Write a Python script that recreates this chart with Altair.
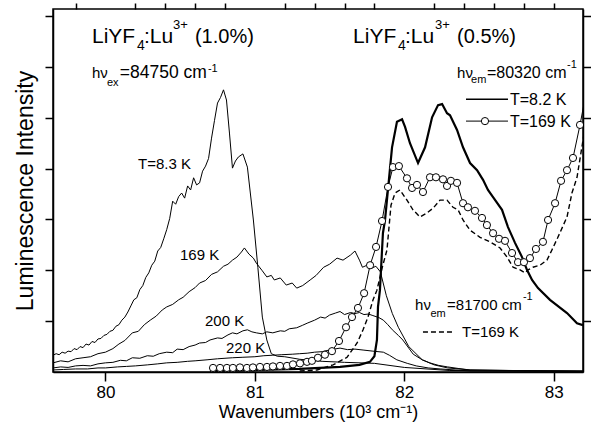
import altair as alt
import pandas as pd

# ---------------- data (x: 10^3 cm^-1, y: intensity, arb. units) ----------------
# LiYF4:Lu3+ (1.0%) emission, hv_ex = 84750 cm-1
em83_x = [79.65, 79.67, 79.69, 79.71, 79.73, 79.75, 79.77, 79.79, 79.81, 79.83, 79.85, 79.87,
          79.89, 79.91, 79.93, 79.95, 79.97, 79.99, 80.01, 80.03, 80.05, 80.07, 80.09, 80.11,
          80.13, 80.15, 80.17, 80.19, 80.21, 80.23, 80.25, 80.27, 80.29, 80.31, 80.33, 80.35,
          80.37, 80.39, 80.41, 80.43, 80.45, 80.47, 80.49, 80.51, 80.53, 80.55, 80.57, 80.59,
          80.61, 80.63, 80.65, 80.67, 80.69, 80.71, 80.73, 80.75, 80.77, 80.79, 80.81, 80.83,
          80.85, 80.87, 80.89, 80.92, 80.95, 80.99, 81.02, 81.05, 81.08, 81.11, 81.15, 81.20,
          81.30, 81.45, 81.60, 81.80, 82.00, 82.30, 83.20]
em83_y = [0.33, 0.36, 0.34, 0.39, 0.37, 0.41, 0.40, 0.46, 0.44, 0.50, 0.48, 0.55,
          0.53, 0.60, 0.58, 0.65, 0.66, 0.72, 0.74, 0.80, 0.82, 0.90, 0.93, 1.02,
          1.08, 1.18, 1.30, 1.42, 1.46, 1.62, 1.70, 1.86, 1.95, 2.10, 2.18, 2.38,
          2.45, 2.62, 2.80, 3.02, 3.36, 3.30, 3.45, 3.52, 3.42, 3.66, 3.58, 3.82,
          3.68, 3.72, 3.95, 4.05, 4.20, 4.60, 4.95, 5.29, 5.40, 5.55, 5.35, 4.70,
          4.01, 4.15, 4.23, 4.29, 4.03, 2.99, 2.06, 1.08, 0.63, 0.36, 0.31, 0.30,
          0.25, 0.21, 0.19, 0.17, 0.09, 0.03, 0.01]

em169_x = [79.65, 79.70, 79.75, 79.80, 79.85, 79.90, 79.95, 80.00, 80.05, 80.09, 80.13, 80.18,
           80.22, 80.26, 80.30, 80.34, 80.38, 80.41, 80.45, 80.49, 80.52, 80.56, 80.60, 80.63,
           80.67, 80.71, 80.75, 80.79, 80.82, 80.85, 80.88, 80.91, 80.93, 80.96, 80.99, 81.01,
           81.05, 81.08, 81.11, 81.13, 81.17, 81.21, 81.25, 81.28, 81.32, 81.37, 81.41, 81.46,
           81.50, 81.55, 81.59, 81.64, 81.67, 81.70, 81.72, 81.75, 81.78, 81.81, 81.84, 81.88,
           81.92, 81.96, 82.03, 82.12, 82.20, 82.29, 82.44, 82.70, 83.20]
em169_y = [0.18, 0.22, 0.20, 0.26, 0.28, 0.30, 0.36, 0.39, 0.46, 0.55, 0.62, 0.77,
           0.80, 0.93, 1.02, 1.10, 1.22, 1.28, 1.33, 1.42, 1.47, 1.58, 1.66, 1.75,
           1.80, 1.92, 1.97, 2.08, 2.12, 2.20, 2.26, 2.36, 2.44, 2.32, 2.24, 2.14,
           1.99, 1.87, 1.90, 1.81, 1.85, 1.71, 1.75, 1.65, 1.70, 1.81, 1.90, 2.06,
           2.12, 2.24, 2.20, 2.30, 2.38, 2.20, 2.06, 2.10, 2.04, 2.08, 1.97, 1.50,
           1.15, 0.88, 0.50, 0.24, 0.14, 0.08, 0.04, 0.03, 0.02]

em200_x = [79.65, 79.70, 79.75, 79.80, 79.85, 79.90, 79.95, 80.00, 80.05, 80.10, 80.14, 80.18,
           80.23, 80.28, 80.32, 80.36, 80.41, 80.45, 80.48, 80.52, 80.56, 80.60, 80.63, 80.67,
           80.70, 80.75, 80.78, 80.82, 80.85, 80.88, 80.92, 80.95, 80.98, 81.01, 81.05, 81.08,
           81.12, 81.17, 81.20, 81.23, 81.28, 81.32, 81.35, 81.40, 81.44, 81.47, 81.50, 81.54,
           81.57, 81.60, 81.64, 81.67, 81.70, 81.73, 81.76, 81.79, 81.83, 81.86, 81.89, 81.92,
           81.96, 81.99, 82.03, 82.06, 82.12, 82.17, 82.23, 82.29, 82.36, 82.44, 82.70, 83.20]
em200_y = [0.08, 0.10, 0.09, 0.12, 0.13, 0.12, 0.16, 0.18, 0.19, 0.23, 0.22, 0.28,
           0.27, 0.32, 0.31, 0.36, 0.39, 0.38, 0.45, 0.44, 0.50, 0.53, 0.57, 0.58,
           0.63, 0.67, 0.66, 0.73, 0.77, 0.75, 0.81, 0.83, 0.79, 0.77, 0.75, 0.79,
           0.77, 0.81, 0.80, 0.85, 0.87, 0.92, 0.96, 1.02, 1.08, 1.06, 1.12, 1.16,
           1.19, 1.13, 1.17, 1.15, 1.17, 1.13, 1.14, 1.11, 1.07, 1.02, 0.93, 0.83,
           0.72, 0.63, 0.47, 0.35, 0.24, 0.18, 0.13, 0.10, 0.07, 0.04, 0.03, 0.02]

em220_x = [79.65, 79.72, 79.80, 79.88, 79.95, 80.00, 80.08, 80.14, 80.20, 80.28, 80.35, 80.41,
           80.48, 80.55, 80.60, 80.68, 80.75, 80.80, 80.85, 80.92, 81.00, 81.06, 81.12, 81.18,
           81.25, 81.30, 81.35, 81.40, 81.45, 81.51, 81.57, 81.62, 81.67, 81.73, 81.79, 81.86,
           81.90, 81.95, 82.02, 82.08, 82.16, 82.24, 82.34, 82.44, 83.20]
em220_y = [0.04, 0.05, 0.06, 0.06, 0.08, 0.08, 0.10, 0.11, 0.12, 0.14, 0.16, 0.18,
           0.19, 0.21, 0.22, 0.24, 0.26, 0.27, 0.28, 0.29, 0.30, 0.32, 0.33, 0.34,
           0.35, 0.36, 0.37, 0.39, 0.40, 0.44, 0.47, 0.44, 0.45, 0.43, 0.41, 0.39,
           0.33, 0.24, 0.17, 0.12, 0.08, 0.06, 0.04, 0.02, 0.01]

# LiYF4:Lu3+ (0.5%) excitation, hv_em = 80320 cm-1, T = 8.2 K (thick line)
ex82_x = [80.70, 81.03, 81.30, 81.57, 81.70, 81.77, 81.80, 81.817, 81.824, 81.837, 81.857,
          81.871, 81.918, 81.951, 81.985, 82.005, 82.038, 82.092, 82.139, 82.186, 82.226,
          82.253, 82.286, 82.306, 82.353, 82.393, 82.44, 82.487, 82.527, 82.56, 82.594,
          82.654, 82.694, 82.741, 82.788, 82.821, 82.855, 82.895, 82.975, 83.089, 83.156, 83.196]
ex82_y = [0.02, 0.04, 0.06, 0.10, 0.14, 0.20, 0.31, 0.63, 1.28, 1.61, 2.73,
          2.99, 4.42, 4.92, 4.97, 4.82, 4.50, 4.11, 4.42, 5.01, 5.25,
          5.27, 5.09, 5.05, 4.76, 4.42, 4.11, 3.97, 3.78, 3.58, 3.44,
          3.19, 2.85, 2.54, 2.26, 2.01, 1.81, 1.65, 1.42, 1.16, 0.96, 0.92]

# excitation, hv_em = 80320 cm-1, T = 169 K (open circles)
ex169_x = [80.720, 80.767, 80.813, 80.853, 80.900, 80.947, 80.987, 81.034, 81.081, 81.121,
           81.168, 81.215, 81.255, 81.302, 81.349, 81.382, 81.422, 81.469, 81.516, 81.563,
           81.610, 81.650, 81.690, 81.731, 81.771, 81.811, 81.851, 81.891, 81.924, 81.964,
           82.018, 82.052, 82.085, 82.125, 82.172, 82.212, 82.259, 82.286, 82.312, 82.353,
           82.393, 82.426, 82.473, 82.520, 82.553, 82.594, 82.634, 82.674, 82.721, 82.761,
           82.801, 82.841, 82.881, 82.928, 82.962, 83.009, 83.049, 83.089, 83.129, 83.176]
ex169_y = [0.08, 0.08, 0.08, 0.08, 0.09, 0.08, 0.09, 0.10, 0.10, 0.11,
           0.12, 0.12, 0.15, 0.17, 0.20, 0.22, 0.28, 0.34, 0.41, 0.61,
           0.88, 1.08, 1.26, 1.55, 2.10, 2.46, 2.97, 3.64, 4.03, 4.05,
           3.81, 3.62, 3.68, 3.54, 3.83, 3.83, 3.79, 3.66, 3.76, 3.72,
           3.32, 3.24, 3.17, 3.03, 2.89, 2.73, 2.62, 2.58, 2.34, 2.16,
           2.16, 2.24, 2.42, 2.56, 2.99, 3.32, 3.76, 3.97, 4.21, 4.86]
ex169_tail_x = [83.23]
ex169_tail_y = [5.70]

# excitation, hv_em = 81700 cm-1, T = 169 K (dashed)
ex81_x = [81.30, 81.416, 81.523, 81.617, 81.684, 81.724, 81.757, 81.791, 81.817, 81.851,
          81.884, 81.911, 81.938, 81.971, 82.018, 82.058, 82.105, 82.152, 82.192, 82.239,
          82.286, 82.326, 82.36, 82.393, 82.44, 82.507, 82.574, 82.641, 82.688, 82.728,
          82.775, 82.808, 82.828, 82.861, 82.908, 82.955, 82.988, 83.028, 83.089, 83.122,
          83.156, 83.196, 83.23]
ex81_y = [0.02, 0.04, 0.14, 0.29, 0.57, 0.83, 1.08, 1.42, 1.61, 2.04,
          2.40, 3.28, 3.52, 3.58, 3.38, 3.19, 3.05, 3.13, 3.22, 3.38,
          3.38, 3.24, 3.19, 2.99, 2.79, 2.65, 2.56, 2.44, 2.26, 2.06,
          2.01, 1.95, 2.01, 2.06, 2.10, 2.20, 2.40, 2.65, 3.05, 3.52,
          3.83, 4.56, 5.10]

x_major = [80, 81, 82, 83]
x_minor = [79.8, 80.2, 80.4, 80.6, 80.8, 81.2, 81.4, 81.6, 81.8,
           82.2, 82.4, 82.6, 82.8, 83.0]
y_ticks = [1, 2, 3, 4, 5, 6, 7]

# ---------------- annotations (text pieces placed in data coordinates) ----------------
ann_text = ["LiYF", "4", ":Lu", "3+", "(1.0%)",
            "LiYF", "4", ":Lu", "3+", "(0.5%)",
            "hν", "ex", "=84750 cm", "-1",
            "hν", "em", "=80320 cm", "-1",
            "T=8.2 K", "T=169 K",
            "hν", "em", "=81700 cm", "-1", "T=169 K",
            "T=8.3 K", "169 K", "200 K", "220 K"]
ann_x = [79.910, 80.211, 80.258, 80.452, 80.599,
         81.657, 81.958, 82.005, 82.205, 82.353,
         79.910, 80.010, 80.096, 80.686,
         82.353, 82.447, 82.553, 83.089,
         82.707, 82.707,
         82.072, 82.175, 82.286, 82.794, 82.386,
         80.218, 80.499, 80.666, 80.807]
ann_y = [6.469, 6.331, 6.469, 6.744, 6.469,
         6.469, 6.331, 6.469, 6.744, 6.469,
         5.781, 5.623, 5.781, 5.899,
         5.781, 5.682, 5.781, 5.977,
         5.250, 4.817,
         1.219, 1.081, 1.219, 1.416, 0.688,
         3.991, 2.202, 0.904, 0.374]
ann_size = [21, 14, 21, 13, 20,
            21, 14, 21, 13, 20,
            15, 11, 17.5, 11,
            15, 11, 16, 11,
            16, 16,
            15, 11, 15, 11, 15,
            15, 15, 15, 15]

leg_solid_x = [82.413, 82.694]
leg_solid_y = [5.367, 5.367]
leg_circ_x = [82.413, 82.694]
leg_circ_y = [4.935, 4.935]
leg_circ_pt_x = [82.540]
leg_circ_pt_y = [4.935]
leg_dash_x = [82.125, 82.326]
leg_dash_y = [0.786, 0.786]

# ---------------- tables ----------------
def series(name, xs, ys):
    return pd.DataFrame({"series": name, "x": xs, "y": ys, "order": list(range(len(xs)))})

thin_df = pd.concat([
    series("em 8.3 K", em83_x, em83_y),
    series("em 169 K", em169_x, em169_y),
    series("em 200 K", em200_x, em200_y),
    series("em 220 K", em220_x, em220_y),
    series("ex 169 K", ex169_x + ex169_tail_x, ex169_y + ex169_tail_y),
    series("legend circles", leg_circ_x, leg_circ_y),
], ignore_index=True)
thick_df = series("ex 8.2 K", ex82_x, ex82_y)
leg_thick_df = series("legend solid", leg_solid_x, leg_solid_y)
dash_df = pd.concat([
    series("ex 169 K (81700)", ex81_x, ex81_y),
    series("legend dashed", leg_dash_x, leg_dash_y),
], ignore_index=True)
circ_df = pd.concat([
    series("ex 169 K", ex169_x, ex169_y),
    series("legend circle", leg_circ_pt_x, leg_circ_pt_y),
], ignore_index=True)
ann_df = pd.DataFrame({"text": ann_text, "x": ann_x, "y": ann_y, "size": ann_size})

FONT = "Liberation Sans"
xs = alt.Scale(domain=[79.649, 83.196], nice=False, zero=False)
ys = alt.Scale(domain=[0, 7.14], nice=False, zero=False)

x_axis_main = alt.Axis(values=x_major, format="d", tickSize=9, tickWidth=1.5, domainWidth=1.5,
                       domainColor="black", tickColor="black", grid=False,
                       labelFont=FONT, labelFontSize=17, labelColor="black",
                       labelBaseline="alphabetic", labelPadding=16,
                       title="Wavenumbers (10³ cm⁻¹)", titleFont=FONT, titleFontSize=18,
                       titleFontWeight="normal", titleColor="black",
                       titleBaseline="alphabetic", titleY=45)
x_axis_minor = alt.Axis(values=x_minor, tickSize=6, tickWidth=1.5, tickColor="black",
                        labels=False, domain=False, grid=False, title=None)
y_axis_left = alt.Axis(values=y_ticks, tickSize=8, tickWidth=1.5, tickColor="black",
                       domainWidth=1.5, domainColor="black", labels=False, grid=False,
                       title="Luminescence Intensity", titleFont=FONT, titleFontSize=23,
                       titleFontWeight="normal", titleColor="black", titleAngle=270,
                       titleBaseline="alphabetic", titleAlign="center",
                       titleX=-21, titleY=181.5)
y_axis_right = alt.Axis(orient="right", values=y_ticks, tickSize=8, tickWidth=1.5,
                        tickColor="black", domainWidth=1.5, domainColor="black",
                        labels=False, grid=False, title=None)

thin = alt.Chart(thin_df).mark_line(color="black", strokeWidth=1, clip=True).encode(
    x=alt.X("x:Q", scale=xs, axis=x_axis_main),
    y=alt.Y("y:Q", scale=ys, axis=y_axis_left),
    detail="series:N",
    order="order:Q",
)
thick = alt.Chart(thick_df).mark_line(color="black", strokeWidth=2.2, clip=True).encode(
    x=alt.X("x:Q", scale=xs, axis=None),
    y=alt.Y("y:Q", scale=ys, axis=None),
    order="order:Q",
)
leg_thick = alt.Chart(leg_thick_df).mark_line(color="black", strokeWidth=1.5).encode(
    x=alt.X("x:Q", scale=xs, axis=None),
    y=alt.Y("y:Q", scale=ys, axis=None),
    order="order:Q",
)
dashed = alt.Chart(dash_df).mark_line(color="black", strokeWidth=1.4, strokeDash=[5, 3],
                                      clip=True).encode(
    x=alt.X("x:Q", scale=xs, axis=None),
    y=alt.Y("y:Q", scale=ys, axis=None),
    detail="series:N",
    order="order:Q",
)
circles = alt.Chart(circ_df).mark_circle(size=52, fill="white", stroke="black",
                                         strokeWidth=1, opacity=1, clip=True).encode(
    x=alt.X("x:Q", scale=xs, axis=x_axis_minor),
    y=alt.Y("y:Q", scale=ys, axis=y_axis_right),
)
texts = alt.Chart(ann_df).mark_text(align="left", baseline="alphabetic", font=FONT,
                                    color="black").encode(
    x=alt.X("x:Q", scale=xs, axis=None),
    y=alt.Y("y:Q", scale=ys, axis=None),
    text="text:N",
    size=alt.Size("size:Q", scale=None, legend=None),
)

chart = alt.layer(thin, thick, leg_thick, dashed, circles, texts).resolve_axis(
    x="independent", y="independent"
).properties(
    width=530, height=363,
    padding={"left": 53, "top": 9, "right": 8, "bottom": 63},
    autosize=alt.AutoSizeParams(type="none"),
    background="white",
).configure_view(stroke="black", strokeWidth=1.5)

chart.save("out.html", embed_options={"renderer": "svg", "actions": False})
